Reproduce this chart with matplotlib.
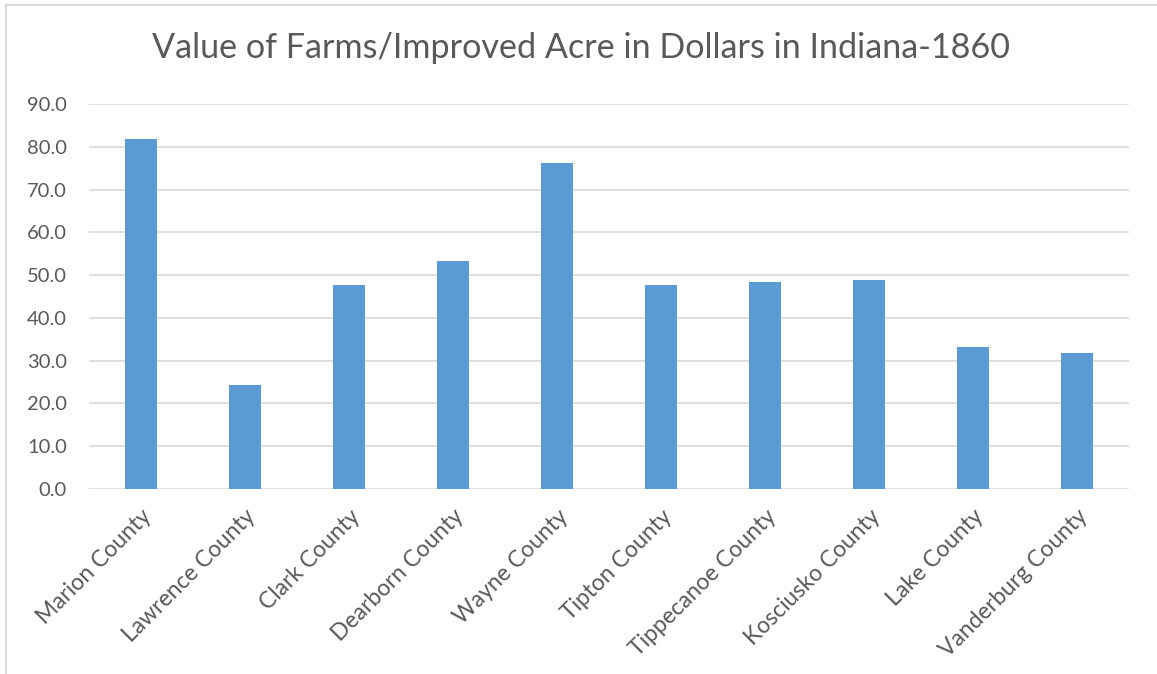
import matplotlib
matplotlib.use("Agg")
import matplotlib.pyplot as plt
from matplotlib.lines import Line2D

# valor por acre melhorado, 1860
counties = ["Marion County", "Lawrence County", "Clark County", "Dearborn County",
            "Wayne County", "Tipton County", "Tippecanoe County", "Kosciusko County",
            "Lake County", "Vanderburg County"]
values = [81.9, 24.4, 47.8, 53.3, 76.2, 47.7, 48.5, 48.8, 33.1, 31.9]
yticks = [0, 10, 20, 30, 40, 50, 60, 70, 80, 90]

plt.rcParams['font.family'] = ['Lato', 'DejaVu Sans']
text_color = "#595959"

fig = plt.figure(figsize=(11.57, 6.74), dpi=100)
ax = fig.add_axes([89 / 1157, 1 - 489 / 674, 1040 / 1157, 385 / 674])

x = range(len(counties))
ax.bar(x, values, width=0.31, color="#5b9bd5", zorder=3)

ax.set_xlim(-0.5, len(counties) - 0.5)
ax.set_ylim(0, 90)
ax.set_yticks(yticks)
ax.set_yticklabels([f"{v:.1f}" for v in yticks], fontsize=14.5, color=text_color)
ax.set_xticks(list(x))
ax.set_xticklabels(counties, rotation=45, ha="right", rotation_mode="anchor",
                   fontsize=16.5, color=text_color)
ax.tick_params(axis="both", length=0)
ax.tick_params(axis="y", pad=16)
ax.tick_params(axis="x", pad=12)

ax.grid(axis="y", color="#d9d9d9", linewidth=1.2, zorder=0)
for s in ax.spines.values():
    s.set_visible(False)

fig.text(581 / 1157, 1 - 48 / 674, "Value of Farms/Improved Acre in Dollars in Indiana-1860",
         ha="center", va="center", fontsize=24.6, color=text_color)

# moldura do gráfico
fig.add_artist(Line2D([6 / 1157, 1], [1 - 5 / 674, 1 - 5 / 674], color="#d9d9d9",
                      linewidth=1.5, transform=fig.transFigure))
fig.add_artist(Line2D([6 / 1157, 6 / 1157], [0, 1 - 5 / 674], color="#d9d9d9",
                      linewidth=1.5, transform=fig.transFigure))

fig.savefig("out.png", dpi=100)
